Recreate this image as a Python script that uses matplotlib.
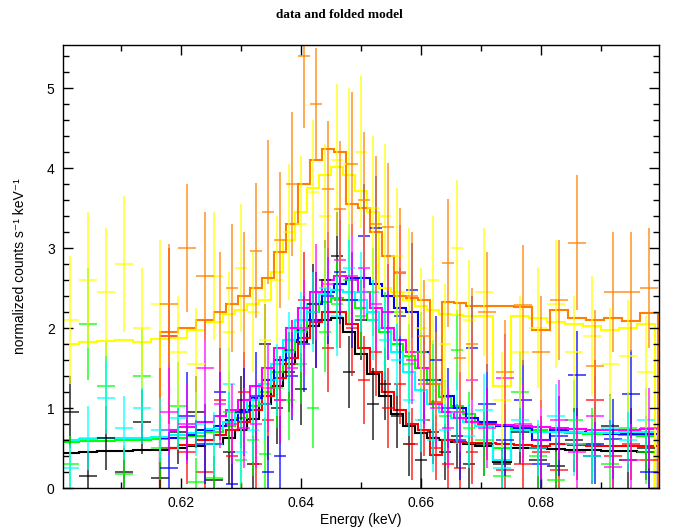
import numpy as np
import matplotlib
matplotlib.use("Agg")
import matplotlib.pyplot as plt
from matplotlib.ticker import MultipleLocator

# Energy bin edges (keV) for the two groups of spectra
edges_a = [0.600, 0.603, 0.606, 0.609, 0.612, 0.615, 0.618, 0.621, 0.624, 0.627,
           0.629, 0.631, 0.633, 0.635, 0.637, 0.639, 0.641, 0.643, 0.645, 0.647,
           0.649, 0.651, 0.653, 0.655, 0.657, 0.659, 0.661, 0.663, 0.665, 0.667,
           0.669, 0.672, 0.675, 0.678, 0.681, 0.684, 0.687, 0.690, 0.693, 0.696, 0.699]
edges_b = [0.6165, 0.6195, 0.6225, 0.6255, 0.6275, 0.6295, 0.6315, 0.6335, 0.6355,
           0.6375, 0.6395, 0.6415, 0.6435, 0.6455, 0.6475, 0.6495, 0.6515, 0.6535,
           0.6555, 0.6575, 0.6595, 0.6615, 0.6635, 0.6655, 0.6675, 0.6695, 0.6725,
           0.6755, 0.6785, 0.6815, 0.6845, 0.6875, 0.6905, 0.6935, 0.6965, 0.6995]

# ---- spectra on grid A ----
black_y = [0.95, 0.15, 0.62, 0.20, 0.82, 0.12, 0.70, 0.95, 0.10, 0.45,
           0.95, 0.30, 1.80, 1.00, 1.45, 1.24, 2.30, 2.60, 2.90, 1.45,
           2.10, 1.05, 1.30, 0.90, 0.55, 0.35, 0.70, 0.45, 0.65, 0.30,
           0.55, 0.30, 0.70, 0.35, 0.28, 0.60, 0.40, 0.78, 0.35, 0.50]
black_err = [0.45, 0.30, 0.40, 0.30, 0.40, 0.25, 0.40, 0.45, 0.30, 0.40,
             0.45, 0.35, 0.50, 0.45, 0.50, 0.45, 0.50, 0.50, 0.55, 0.45,
             0.50, 0.45, 0.45, 0.40, 0.40, 0.35, 0.40, 0.35, 0.40, 0.35,
             0.40, 0.30, 0.40, 0.35, 0.35, 0.40, 0.35, 0.40, 0.35, 0.40]
black_model = [0.44, 0.45, 0.46, 0.46, 0.47, 0.48, 0.50, 0.52, 0.55, 0.62,
               0.72, 0.86, 1.05, 1.28, 1.55, 1.82, 2.02, 2.10, 2.12, 1.95,
               1.68, 1.42, 1.15, 0.92, 0.78, 0.69, 0.63, 0.60, 0.57, 0.55,
               0.53, 0.32, 0.50, 0.50, 0.49, 0.48, 0.47, 0.46, 0.46, 0.45]

green_y = [0.30, 2.05, 1.27, 0.17, 1.40, 0.50, 1.03, 0.08, 0.12, 0.95,
           0.35, 0.60, 0.43, 1.25, 1.10, 1.55, 1.00, 1.95, 2.30, 2.60,
           2.15, 2.45, 1.95, 2.20, 1.55, 1.70, 1.35, 0.90, 1.72, 0.75,
           0.60, 0.15, 1.20, 0.40, 0.10, 0.85, 0.55, 0.30, 0.75, 0.45]
green_err = [0.35, 0.70, 0.55, 0.35, 0.60, 0.40, 0.55, 0.30, 0.40, 0.50,
             0.45, 0.45, 0.45, 0.50, 0.50, 0.50, 0.50, 0.50, 0.55, 0.55,
             0.50, 0.55, 0.50, 0.50, 0.50, 0.50, 0.50, 0.45, 0.50, 0.45,
             0.45, 0.30, 0.50, 0.40, 0.35, 0.50, 0.45, 0.40, 0.45, 0.40]
green_model = [0.58, 0.59, 0.59, 0.60, 0.60, 0.61, 0.62, 0.65, 0.70, 0.78,
               0.88, 1.02, 1.20, 1.45, 1.72, 1.98, 2.20, 2.32, 2.38, 2.35,
               2.25, 2.10, 1.95, 1.80, 1.65, 1.50, 1.30, 1.14, 1.02, 0.92,
               0.82, 0.50, 0.75, 0.72, 0.70, 0.69, 0.68, 0.67, 0.66, 0.65]

cyan_y = [0.25, 0.62, 1.12, 0.75, 1.00, 0.72, 0.88, 0.80, 0.55, 1.30,
          0.45, 0.72, 1.05, 1.35, 1.70, 1.95, 2.20, 2.50, 2.15, 2.75,
          2.45, 2.10, 1.85, 1.60, 1.10, 0.85, 0.60, 0.72, 0.95, 0.65,
          0.98, 0.25, 0.85, 0.50, 0.90, 0.55, 0.40, 0.75, 0.60, 0.85]
cyan_err = [0.30, 0.40, 0.45, 0.40, 0.45, 0.40, 0.40, 0.40, 0.40, 0.45,
            0.40, 0.40, 0.45, 0.45, 0.50, 0.50, 0.50, 0.50, 0.50, 0.55,
            0.50, 0.50, 0.50, 0.45, 0.45, 0.40, 0.40, 0.40, 0.40, 0.40,
            0.45, 0.30, 0.40, 0.35, 0.40, 0.40, 0.35, 0.40, 0.40, 0.40]
cyan_model = [0.60, 0.61, 0.62, 0.62, 0.63, 0.64, 0.66, 0.69, 0.74, 0.82,
              0.94, 1.10, 1.30, 1.55, 1.85, 2.10, 2.30, 2.42, 2.48, 2.45,
              2.35, 2.20, 2.00, 1.70, 1.45, 1.22, 1.05, 0.95, 0.88, 0.82,
              0.78, 0.35, 0.72, 0.70, 0.70, 0.70, 0.69, 0.69, 0.70, 0.70]

yellow_y = [2.10, 2.60, 2.45, 2.80, 2.00, 2.30, 1.70, 1.55, 2.65, 1.95,
            2.75, 2.20, 1.85, 2.60, 3.20, 3.30, 3.70, 3.40, 4.10, 4.05,
            4.20, 3.50, 3.40, 2.90, 2.45, 2.00, 2.60, 1.80, 3.00, 2.10,
            2.45, 1.10, 1.70, 2.00, 2.30, 1.70, 1.90, 1.55, 1.65, 1.45]
yellow_err = [0.80, 0.85, 0.80, 0.85, 0.75, 0.80, 0.70, 0.70, 0.80, 0.75,
              0.80, 0.75, 0.75, 0.80, 0.85, 0.85, 0.90, 0.90, 0.95, 0.95,
              0.95, 0.90, 0.90, 0.85, 0.80, 0.75, 0.80, 0.75, 0.85, 0.75,
              0.80, 0.60, 0.70, 0.75, 0.80, 0.70, 0.75, 0.70, 0.70, 0.70]
yellow_model = [1.80, 1.82, 1.84, 1.85, 1.82, 1.86, 1.88, 1.98, 2.08, 2.18,
                2.22, 2.30, 2.35, 2.70, 3.10, 3.45, 3.75, 3.92, 4.02, 3.92,
                3.72, 3.45, 2.50, 2.45, 2.35, 2.28, 2.22, 2.18, 2.16, 2.15,
                2.15, 1.27, 2.15, 2.13, 2.08, 2.05, 2.02, 1.98, 2.00, 2.05]

# ---- spectra on grid B ----
red_y = [1.90, 0.45, 0.20, 1.10, 0.40, 1.20, 0.30, 0.85, 1.10, 1.55,
         2.35, 2.10, 1.75, 2.35, 2.00, 1.35, 1.70, 1.00, 1.30, 0.55,
         0.85, 0.50, 0.30, 0.25, 0.45, 0.80, 0.22, 0.30, 0.45, 0.22,
         0.55, 1.10, 0.40, 0.55, 0.35]
red_err = [1.10, 0.40, 0.35, 0.50, 0.45, 0.50, 0.50, 0.50, 0.55, 0.55,
           0.60, 0.60, 0.55, 0.60, 0.60, 0.55, 0.55, 0.50, 0.50, 0.45,
           0.45, 0.40, 0.40, 0.35, 0.40, 0.45, 0.35, 0.40, 0.45, 0.35,
           0.45, 0.50, 0.40, 0.45, 0.40]
red_model = [0.50, 0.54, 0.60, 0.66, 0.72, 0.82, 0.97, 1.15, 1.38, 1.62,
             1.88, 2.08, 2.20, 2.20, 2.05, 1.75, 1.45, 1.20, 0.98, 0.80,
             0.72, 0.41, 0.60, 0.58, 0.56, 0.56, 0.55, 0.54, 0.53, 0.55,
             0.54, 0.53, 0.52, 0.52, 0.52]

blue_y = [0.25, 0.90, 0.55, 1.20, 0.05, 0.95, 1.15, 0.20, 0.40, 1.40,
          1.80, 2.10, 2.40, 2.70, 2.35, 3.15, 3.25, 2.20, 2.15, 2.47,
          1.35, 1.60, 1.00, 0.60, 1.75, 1.05, 0.60, 1.10, 0.30, 0.65,
          1.41, 0.55, 0.61, 1.18, 0.20]
blue_err = [0.45, 0.55, 0.50, 0.55, 0.40, 0.55, 0.55, 0.45, 0.50, 0.55,
            0.60, 0.60, 0.60, 0.65, 0.60, 0.65, 0.65, 0.60, 0.60, 0.60,
            0.55, 0.55, 0.50, 0.50, 0.65, 0.50, 0.45, 0.50, 0.45, 0.50,
            0.55, 0.50, 0.50, 0.55, 0.45]
blue_model = [0.62, 0.66, 0.72, 0.78, 0.85, 0.97, 1.12, 1.35, 1.60, 1.85,
              2.10, 2.30, 2.45, 2.55, 2.62, 2.62, 2.55, 2.40, 2.25, 2.20,
              1.70, 1.35, 1.15, 1.00, 0.88, 0.82, 0.78, 0.75, 0.60, 0.72,
              0.70, 0.69, 0.68, 0.67, 0.68]

magenta_y = [0.95, 0.80, 1.50, 1.05, 0.80, 0.75, 0.80, 1.25, 1.10, 1.50,
             2.00, 2.45, 2.55, 2.85, 2.65, 2.75, 2.30, 2.20, 2.69, 1.60,
             1.30, 1.00, 0.75, 0.95, 1.35, 0.75, 1.37, 0.80, 0.60, 0.85,
             0.45, 0.90, 0.26, 0.35, 0.75]
magenta_err = [0.55, 0.50, 0.60, 0.55, 0.50, 0.50, 0.55, 0.55, 0.55, 0.60,
               0.60, 0.60, 0.65, 0.65, 0.65, 0.65, 0.60, 0.60, 0.60, 0.55,
               0.55, 0.50, 0.50, 0.50, 0.55, 0.50, 0.55, 0.50, 0.50, 0.50,
               0.45, 0.50, 0.40, 0.45, 0.50]
magenta_model = [0.72, 0.76, 0.82, 0.90, 0.98, 1.10, 1.28, 1.50, 1.75, 2.00,
                 2.25, 2.45, 2.60, 2.65, 2.60, 2.45, 2.25, 2.00, 1.85, 1.70,
                 1.50, 1.05, 0.95, 0.88, 0.83, 0.80, 0.79, 0.77, 0.76, 0.75,
                 0.74, 0.73, 0.72, 0.72, 0.74]

orange_y = [2.30, 3.00, 2.65, 2.20, 2.50, 2.40, 2.97, 3.45, 3.10, 3.80,
            5.40, 4.80, 3.74, 3.49, 4.05, 3.60, 3.30, 3.26, 2.70, 2.40,
            1.90, 1.30, 2.81, 1.62, 1.80, 2.20, 1.45, 2.29, 1.70, 2.35,
            3.07, 1.53, 2.45, 2.45, 2.50]
orange_err = [0.75, 0.80, 0.80, 0.75, 0.80, 0.80, 0.85, 0.90, 0.85, 0.90,
              0.90, 0.70, 0.85, 0.85, 0.90, 0.85, 0.85, 0.80, 0.80, 0.80,
              0.70, 0.65, 0.80, 0.70, 0.70, 0.75, 0.65, 0.75, 0.70, 0.75,
              0.85, 0.70, 0.75, 0.75, 0.75]
orange_model = [1.95, 2.00, 2.10, 2.20, 2.30, 2.40, 2.50, 2.62, 2.95, 3.30,
                3.80, 4.10, 4.24, 4.20, 3.55, 3.50, 3.20, 2.90, 2.40, 2.38,
                2.35, 1.07, 2.33, 2.31, 2.28, 2.27, 2.27, 2.26, 1.97, 2.22,
                2.12, 2.10, 2.12, 2.09, 2.19]

series = [
    ("#000000", edges_a, black_y, black_err, black_model),
    ("#ff0000", edges_b, red_y, red_err, red_model),
    ("#00ff00", edges_a, green_y, green_err, green_model),
    ("#0000ff", edges_b, blue_y, blue_err, blue_model),
    ("#00ffff", edges_a, cyan_y, cyan_err, cyan_model),
    ("#ff00ff", edges_b, magenta_y, magenta_err, magenta_model),
    ("#ffff00", edges_a, yellow_y, yellow_err, yellow_model),
    ("#ff8000", edges_b, orange_y, orange_err, orange_model),
]

fig = plt.figure(figsize=(6.78, 5.27), dpi=100)
ax = fig.add_axes([63 / 678, 39 / 527, 596 / 678, 443 / 527])

for color, edges, y, yerr, model in series:
    e = np.asarray(edges)
    centers = 0.5 * (e[1:] + e[:-1])
    half = 0.5 * (e[1:] - e[:-1])
    ax.errorbar(centers, y, xerr=half, yerr=yerr, fmt="none", ecolor=color,
                elinewidth=1.1, alpha=0.85, capsize=0)
    ax.stairs(model, e, color=color, linewidth=1.5)

ax.set_xlim(0.6003, 0.6997)
ax.set_ylim(0, 5.54)

ax.xaxis.set_major_locator(MultipleLocator(0.02))
ax.xaxis.set_minor_locator(MultipleLocator(0.01))
ax.yaxis.set_major_locator(MultipleLocator(1))
ax.yaxis.set_minor_locator(MultipleLocator(0.2))
ax.tick_params(which="both", direction="in", top=True, right=True, width=1.0)
ax.tick_params(which="major", length=7, labelsize=10, pad=6)
ax.tick_params(which="minor", length=4)
for lab in ax.get_xticklabels() + ax.get_yticklabels():
    lab.set_family(["Liberation Sans", "DejaVu Sans"])
for sp in ax.spines.values():
    sp.set_linewidth(1.0)

ax.set_xlabel("Energy (keV)", fontsize=10, family=["Liberation Sans", "DejaVu Sans"], labelpad=2)
ax.set_ylabel("normalized counts s\u207b\u00b9 keV\u207b\u00b9", fontsize=10,
              family=["Liberation Sans", "DejaVu Sans"], labelpad=14)
fig.text(0.5, 1 - 15 / 527, "data and folded model", ha="center", va="center",
         fontsize=9.5, fontweight="bold", family=["Liberation Serif", "DejaVu Serif"])

fig.savefig("out.png", dpi=100)
